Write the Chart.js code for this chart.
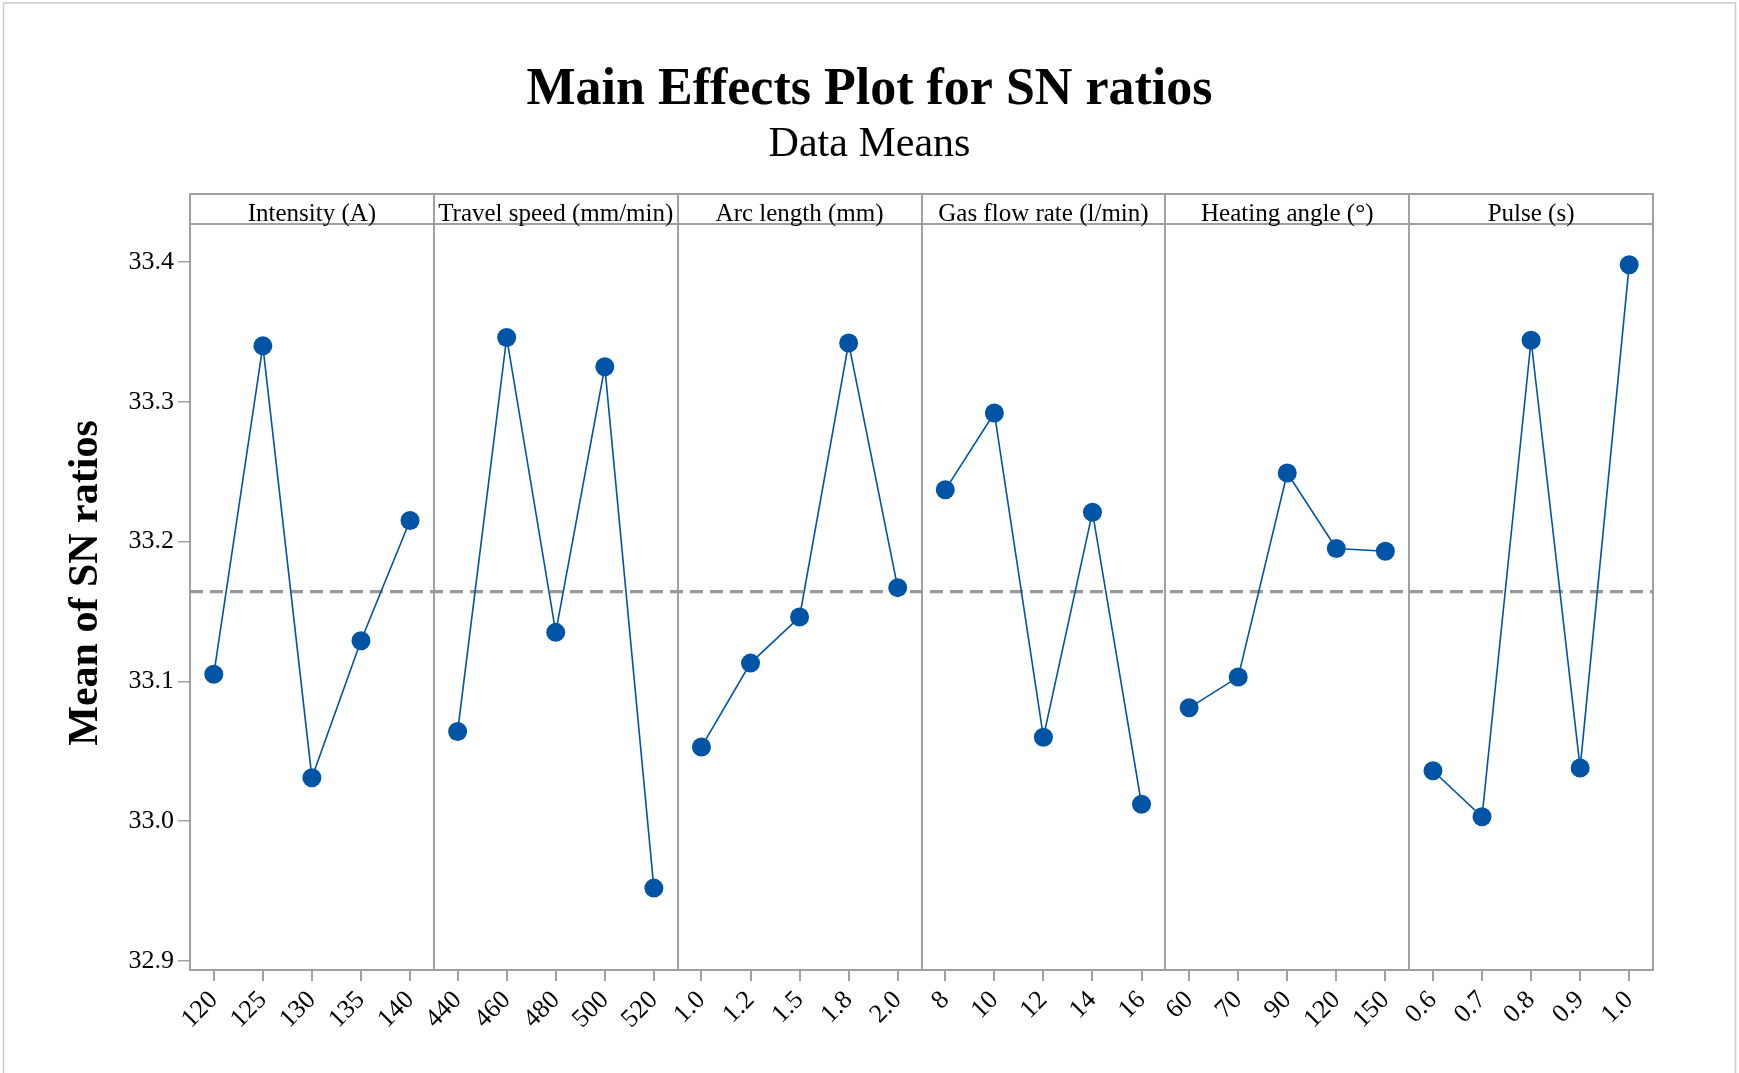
<!DOCTYPE html>
<html>
<head>
<meta charset="utf-8">
<script src="https://cdn.jsdelivr.net/npm/chart.js@4.4.1/dist/chart.umd.min.js"></script>
<style>
  html, body { margin: 0; padding: 0; background: #fff; }
  #c { display: block; }
</style>
</head>
<body>
<canvas id="c" width="1739" height="1073"></canvas>
<script>
// ---- Data ----
const chartTitle = 'Main Effects Plot for SN ratios';
const chartSubtitle = 'Data Means';
const yAxisTitle = 'Mean of SN ratios';

const factors = ['Intensity (A)', 'Travel speed (mm/min)', 'Arc length (mm)', 'Gas flow rate (l/min)', 'Heating angle (°)', 'Pulse (s)'];

const intensityLevels = ['120', '125', '130', '135', '140'];
const intensitySN = [33.105, 33.340, 33.031, 33.129, 33.215];

const speedLevels = ['440', '460', '480', '500', '520'];
const speedSN = [33.064, 33.346, 33.135, 33.325, 32.952];

const arcLevels = ['1.0', '1.2', '1.5', '1.8', '2.0'];
const arcSN = [33.053, 33.113, 33.146, 33.342, 33.167];

const gasLevels = ['8', '10', '12', '14', '16'];
const gasSN = [33.237, 33.292, 33.060, 33.221, 33.012];

const angleLevels = ['60', '70', '90', '120', '150'];
const angleSN = [33.081, 33.103, 33.249, 33.195, 33.193];

const pulseLevels = ['0.6', '0.7', '0.8', '0.9', '1.0'];
const pulseSN = [33.036, 33.003, 33.344, 33.038, 33.398];

const yTicks = [32.9, 33.0, 33.1, 33.2, 33.3, 33.4];

// ---- Build ----
const levelSets = [intensityLevels, speedLevels, arcLevels, gasLevels, angleLevels, pulseLevels];
const snSets = [intensitySN, speedSN, arcSN, gasSN, angleSN, pulseSN];

const PANEL_W = 4.97;   // panel width in category units
const PANEL_OFF = 0.485; // gap before first level inside a panel
const NP = factors.length;

const tickPos = [];
const tickLabels = [];
levelSets.forEach((lv, p) => lv.forEach((l, i) => {
  tickPos.push(p * PANEL_W + PANEL_OFF + i);
  tickLabels.push(l);
}));

const allVals = snSets.flat();
const grandMean = allVals.reduce((a, b) => a + b, 0) / allVals.length;

const BLUE = '#0054A6';
const GREY = '#a0a0a0';
const SERIF = '"Liberation Serif", "Times New Roman", serif';

const datasets = snSets.map((vals, p) => ({
  label: factors[p],
  data: vals.map((v, i) => ({ x: p * PANEL_W + PANEL_OFF + i, y: v })),
  borderColor: BLUE,
  backgroundColor: BLUE,
  borderWidth: 1.6,
  pointRadius: 9.5,
  pointBorderWidth: 0,
  pointBackgroundColor: BLUE,
  tension: 0,
  order: 1
}));
datasets.push({
  label: 'mean',
  data: [{ x: 0, y: grandMean }, { x: NP * PANEL_W, y: grandMean }],
  borderColor: '#999999',
  borderWidth: 3.2,
  borderDash: [13, 7],
  pointRadius: 0,
  order: 5
});

const STRIP_H = 30;

const decor = {
  id: 'decor',
  beforeDraw(chart) {
    const ctx = chart.ctx;
    ctx.save();
    ctx.fillStyle = '#fff';
    ctx.fillRect(0, 0, chart.width, chart.height);
    ctx.strokeStyle = '#cccccc';
    ctx.lineWidth = 1.5;
    ctx.beginPath();
    ctx.moveTo(3.5, chart.height + 2);
    ctx.lineTo(3.5, 3);
    ctx.lineTo(1735.5, 3);
    ctx.lineTo(1735.5, chart.height + 2);
    ctx.stroke();
    // titles
    ctx.fillStyle = '#000';
    ctx.textAlign = 'center';
    ctx.textBaseline = 'middle';
    ctx.font = 'bold 52px ' + SERIF;
    ctx.fillText(chartTitle, chart.width / 2, 91);
    ctx.font = '42px ' + SERIF;
    ctx.fillText(chartSubtitle, chart.width / 2, 145);
    // y axis title
    ctx.save();
    ctx.translate(86, 583);
    ctx.rotate(-Math.PI / 2);
    ctx.font = 'bold 42px ' + SERIF;
    ctx.fillText(yAxisTitle, 0, 0);
    ctx.restore();
    ctx.restore();
  },
  beforeDatasetsDraw(chart) {
    const ctx = chart.ctx;
    const a = chart.chartArea;
    const xs = chart.scales.x;
    ctx.save();
    ctx.strokeStyle = GREY;
    ctx.lineWidth = 2;
    ctx.strokeRect(a.left, a.top - STRIP_H, a.right - a.left, a.bottom - a.top + STRIP_H);
    ctx.beginPath();
    ctx.moveTo(a.left, a.top);
    ctx.lineTo(a.right, a.top);
    for (let p = 1; p < NP; p++) {
      const px = Math.round(xs.getPixelForValue(p * PANEL_W));
      ctx.moveTo(px, a.top - STRIP_H);
      ctx.lineTo(px, a.bottom);
    }
    ctx.stroke();
    ctx.fillStyle = '#000';
    ctx.textAlign = 'center';
    ctx.textBaseline = 'alphabetic';
    ctx.font = '25px ' + SERIF;
    for (let p = 0; p < NP; p++) {
      const cx = (xs.getPixelForValue(p * PANEL_W) + xs.getPixelForValue((p + 1) * PANEL_W)) / 2;
      ctx.fillText(factors[p], cx, a.top - 3);
    }
    ctx.restore();
  }
};

new Chart(document.getElementById('c'), {
  type: 'line',
  data: { datasets },
  plugins: [decor],
  options: {
    responsive: false,
    devicePixelRatio: 1,
    animation: false,
    events: [],
    layout: { padding: { top: 224, right: 86, left: 0, bottom: 0 } },
    plugins: { legend: { display: false }, tooltip: { enabled: false }, title: { display: false } },
    scales: {
      x: {
        type: 'linear',
        min: 0,
        max: NP * PANEL_W,
        afterBuildTicks(scale) { scale.ticks = tickPos.map(v => ({ value: v })); },
        afterFit(scale) { scale.height = 103; },
        grid: { drawOnChartArea: false, drawTicks: true, tickLength: 11, color: GREY, lineWidth: 2 },
        border: { display: false },
        ticks: {
          autoSkip: false,
          maxRotation: 45,
          minRotation: 45,
          padding: 4,
          color: '#000',
          font: { family: SERIF, size: 26 },
          callback: (v, i) => tickLabels[i]
        }
      },
      y: {
        type: 'linear',
        min: 32.8934,
        max: 33.4272,
        afterBuildTicks(scale) { scale.ticks = yTicks.map(v => ({ value: v })); },
        afterFit(scale) { scale.width = 190; },
        grid: { drawOnChartArea: false, drawTicks: true, tickLength: 12, color: GREY, lineWidth: 1.5 },
        border: { display: false },
        ticks: {
          padding: 4,
          color: '#000',
          font: { family: SERIF, size: 26 },
          callback: v => v.toFixed(1)
        }
      }
    }
  }
});
</script>
</body>
</html>
